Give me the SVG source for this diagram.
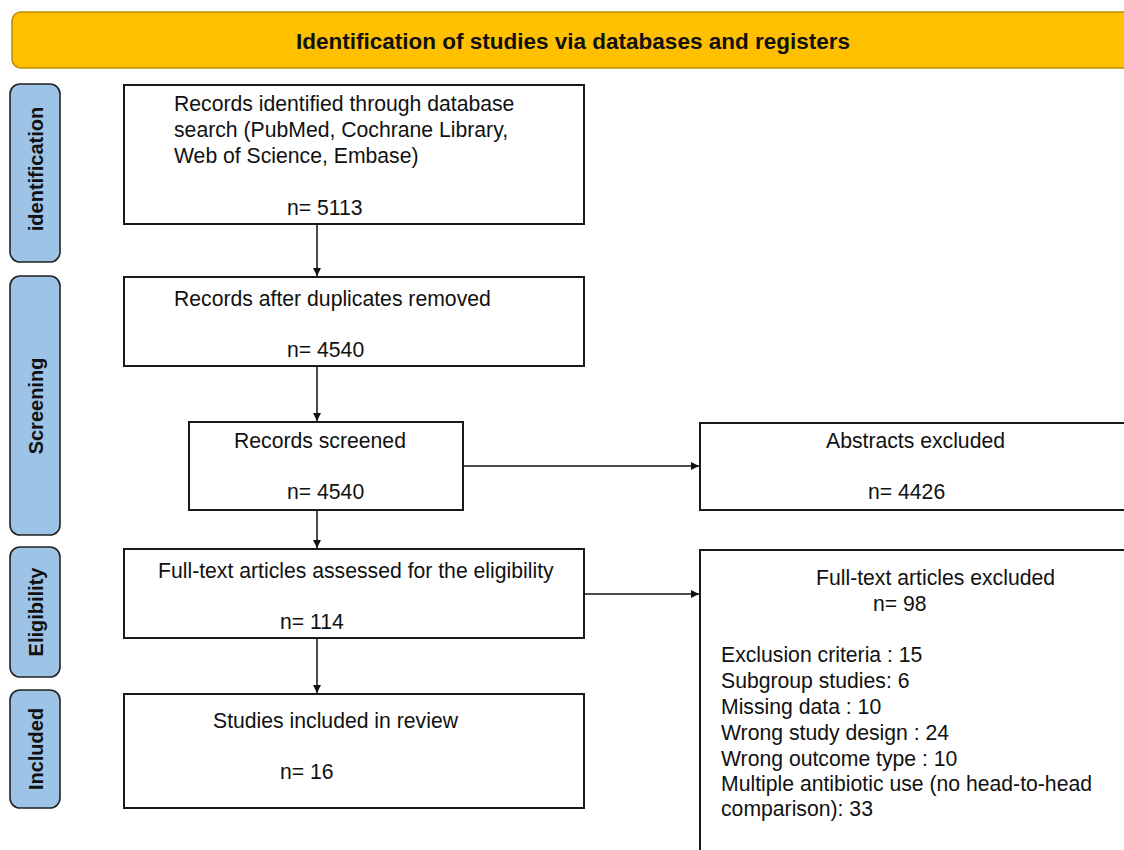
<svg xmlns="http://www.w3.org/2000/svg" width="1124" height="850" viewBox="0 0 1124 850">
<style>
.box{fill:#fff;stroke:#1a1a1a;stroke-width:2}
.side{fill:#9DC3E6;stroke:#222;stroke-width:1.6}
.t{font-family:"Liberation Sans",Arial,sans-serif;font-size:21.2px;fill:#111}
.st{font-family:"Liberation Sans",Arial,sans-serif;font-size:20px;font-weight:bold;fill:#111}
.edge{stroke:#111;stroke-width:1.5;fill:none;marker-end:url(#ah)}
</style>
<defs>
<marker id="ah" viewBox="0 0 10 10" refX="10" refY="5" markerWidth="8" markerHeight="8" markerUnits="userSpaceOnUse" orient="auto">
<path d="M0,0 L10,5 L0,10 z" fill="#111"/>
</marker>
</defs>
<rect width="1124" height="850" fill="#fff"/>
<g id="header">
<rect x="12" y="12" width="1130" height="56" rx="9" fill="#FFC000" stroke="#BF9000" stroke-width="1.6"/>
<text x="573" y="49" text-anchor="middle" font-family="'Liberation Sans',Arial,sans-serif" font-size="22.5" font-weight="bold" fill="#111" textLength="554" lengthAdjust="spacingAndGlyphs">Identification of studies via databases and registers</text>
</g>
<g id="side-identification">
<rect class="side" x="10" y="84" width="50" height="178" rx="10"/>
<text class="st" transform="translate(36,169) rotate(-90)" text-anchor="middle" dominant-baseline="central">identification</text>
</g>
<g id="side-screening">
<rect class="side" x="10" y="276" width="50" height="259" rx="10"/>
<text class="st" transform="translate(36,406) rotate(-90)" text-anchor="middle" dominant-baseline="central">Screening</text>
</g>
<g id="side-eligibility">
<rect class="side" x="10" y="547" width="50" height="130" rx="10"/>
<text class="st" transform="translate(36,612) rotate(-90)" text-anchor="middle" dominant-baseline="central">Eligibility</text>
</g>
<g id="side-included">
<rect class="side" x="10" y="690" width="50" height="118" rx="10"/>
<text class="st" transform="translate(36,749) rotate(-90)" text-anchor="middle" dominant-baseline="central">Included</text>
</g>
<g id="identified">
<rect class="box" x="124" y="85" width="460" height="139"/>
<text class="t" x="174" y="111">Records identified through database</text>
<text class="t" x="174" y="137">search (PubMed, Cochrane Library,</text>
<text class="t" x="174" y="163">Web of Science, Embase)</text>
<text class="t" x="287" y="215">n= 5113</text>
</g>
<g id="duplicates">
<rect class="box" x="124" y="277" width="460" height="89"/>
<text class="t" x="174" y="306">Records after duplicates removed</text>
<text class="t" x="287" y="357">n= 4540</text>
</g>
<g id="screened">
<rect class="box" x="189" y="422" width="274" height="88"/>
<text class="t" x="234" y="448">Records screened</text>
<text class="t" x="287" y="499">n= 4540</text>
</g>
<g id="abstracts-excluded">
<rect class="box" x="700" y="423" width="440" height="87"/>
<text class="t" x="826" y="448">Abstracts excluded</text>
<text class="t" x="868" y="499">n= 4426</text>
</g>
<g id="fulltext">
<rect class="box" x="124" y="549" width="460" height="89"/>
<text class="t" x="158" y="578">Full-text articles assessed for the eligibility</text>
<text class="t" x="280" y="629">n= 114</text>
</g>
<g id="fulltext-excluded">
<rect class="box" x="700" y="550" width="440" height="320"/>
<text class="t" x="816" y="585">Full-text articles excluded</text>
<text class="t" x="873" y="611">n= 98</text>
<text class="t" x="721" y="662">Exclusion criteria : 15</text>
<text class="t" x="721" y="688">Subgroup studies: 6</text>
<text class="t" x="721" y="714">Missing data : 10</text>
<text class="t" x="721" y="740">Wrong study design : 24</text>
<text class="t" x="721" y="766">Wrong outcome type : 10</text>
<text class="t" x="721" y="791">Multiple antibiotic use (no head-to-head</text>
<text class="t" x="721" y="816">comparison): 33</text>
</g>
<g id="included">
<rect class="box" x="124" y="694" width="460" height="114"/>
<text class="t" x="213" y="728">Studies included in review</text>
<text class="t" x="280" y="779">n= 16</text>
</g>
<g id="connectors">
<path class="edge" d="M317,224 V276"/>
<path class="edge" d="M317,366 V421"/>
<path class="edge" d="M317,510 V548"/>
<path class="edge" d="M317,638 V693"/>
<path class="edge" d="M463,466 H699"/>
<path class="edge" d="M584,594 H699"/>
</g>
</svg>
